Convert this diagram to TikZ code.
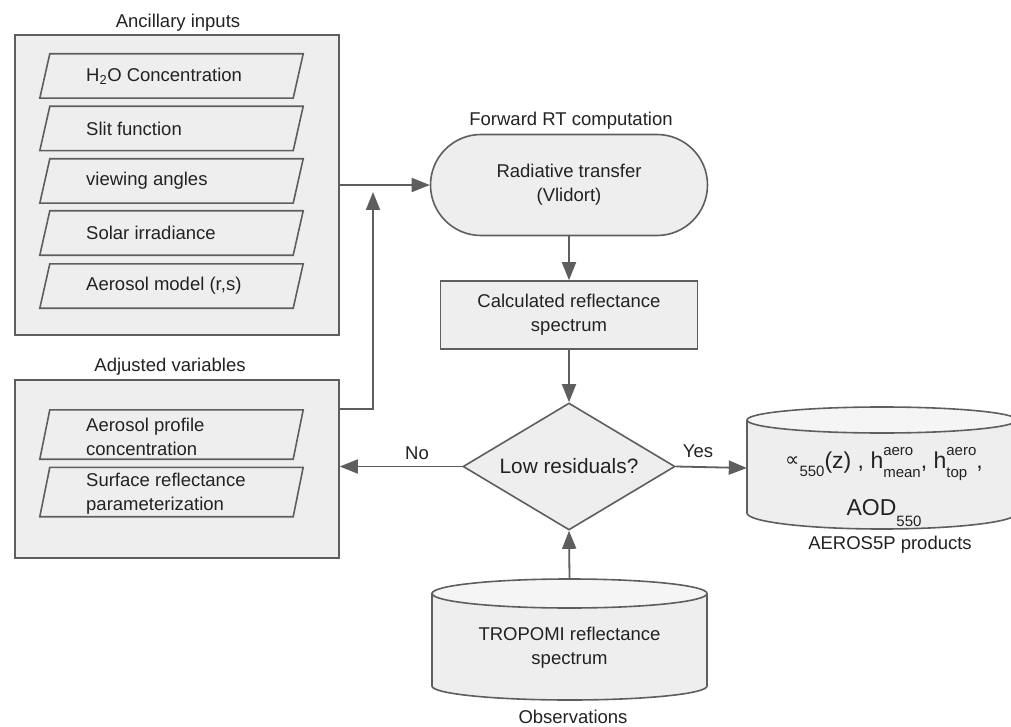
\documentclass[tikz,border=0pt]{standalone}
\usepackage{fontspec}
\setmainfont{Liberation Sans}
\newfontfamily\djv{DejaVu Sans}
\usetikzlibrary{shapes.geometric,arrows.meta,calc}
\definecolor{fillc}{HTML}{EEEEEE}
\definecolor{linec}{HTML}{5E5E5E}
\definecolor{txtc}{HTML}{222222}
\newdimen\sswid
\newcommand\supsub[3]{{\fontsize{15}{15}\selectfont
 \setbox0=\hbox{#1}\setbox2=\hbox{#2}%
 \sswid=\wd0 \ifdim\wd2>\sswid \sswid=\wd2\fi
 \makebox[\sswid][l]{\rlap{\raisebox{13pt}{\box0}}\raisebox{-#3}{\box2}}}}
\newcommand\lowsub[2]{{\fontsize{15}{15}\selectfont\raisebox{-#2}{#1}}}
\newcommand\para[3]{\node[pnode,minimum height=#3] (#1) at (166.5,#2) {};
 \filldraw[shp] (#1.south west) -- ([xshift=10pt]#1.north west) -- ([xshift=10pt]#1.north east) -- (#1.south east) -- cycle;}
\newcommand\cylshape[6]{% cx, ytop, ybot, rx, ry top, ry bottom
 \fill[fillc] (#1,#3) ellipse [x radius=#4pt, y radius=#6pt];
 \fill[fillc] (#1-#4,#2) rectangle (#1+#4,#3);
 \draw[linec, line width=1.6pt] (#1-#4,#2) -- (#1-#4,#3) (#1+#4,#2) -- (#1+#4,#3);
 \begin{scope}
 \clip (#1-#4-5,#3) rectangle (#1+#4+5,#3+#6+5);
 \draw[linec, line width=1.6pt] (#1,#3) ellipse [x radius=#4pt, y radius=#6pt];
 \end{scope}
 \filldraw[fill=fillc!60!white, draw=linec, line width=1.6pt] (#1,#2) ellipse [x radius=#4pt, y radius=#5pt];}
\begin{document}
\begin{tikzpicture}[x=1pt,y=-1pt,
 every node/.style={text=txtc, font=\fontsize{18.5}{24}\selectfont},
 shp/.style={fill=fillc, draw=linec, line width=1.6pt},
 pnode/.style={minimum width=253pt, inner sep=0pt, draw=none},
 txt/.style={inner sep=0pt, align=left, anchor=west},
 ctxt/.style={inner sep=0pt, align=center},
 ghost/.style={inner sep=0pt, draw=none},
 arr/.style={draw=linec, line width=1.8pt, -{Triangle[length=18pt,width=14pt]}}]
\fill[white] (0,0) rectangle (1011,727);
\useasboundingbox (0,0) rectangle (1011,727);

% Ancillary inputs
\node[ctxt] (anctitle) at (178,23) {Ancillary inputs};
\node[shp, minimum width=324pt, minimum height=300pt, inner sep=0pt] (anc) at (177,185) {};
\para{p1}{76}{44}
\para{p2}{128.5}{44}
\para{p3}{181}{44}
\para{p4}{233}{44}
\para{p5}{286}{44}
\node[txt] (t1) at (86,76) {H\textsubscript{2}O Concentration};
\node[txt] (t2) at (86,128.5) {Slit function};
\node[txt] (t3) at (86,181) {viewing angles};
\node[txt] (t4) at (86,233) {Solar irradiance};
\node[txt] (t5) at (86,286) {Aerosol model (r,s)};

% Adjusted variables
\node[ctxt] (adjtitle) at (170,367) {Adjusted variables};
\node[shp, minimum width=324pt, minimum height=178pt, inner sep=0pt] (adj) at (177,469) {};
\para{q1}{434.5}{49}
\para{q2}{492}{49}
\node[txt] (u1) at (86,436.5) {Aerosol profile\\concentration};
\node[txt] (u2) at (86,493.5) {Surface reflectance\\parameterization};

% Forward RT
\node[ctxt] (rttitle) at (571,121) {Forward RT computation};
\node[shp, rounded corners=50.5pt, minimum width=277pt, minimum height=101pt, inner sep=0pt, align=center] (rt) at (569,185) {Radiative transfer\\(Vlidort)};
\node[shp, minimum width=257pt, minimum height=68pt, inner sep=0pt, align=center] (calc) at (569,315) {Calculated reflectance\\spectrum};
\node[shp, diamond, aspect=1.67, minimum width=212pt, minimum height=127pt, inner sep=0pt, font=\fontsize{20.8}{24}\selectfont] (dia) at (569,466.5) {Low residuals?};

% Observations cylinder
\cylshape{569.5}{593.5}{686}{137.5}{14.5}{14}
\node[ghost, minimum width=275pt, minimum height=121pt] (obs) at (569.5,639.5) {};
\node[ctxt] (obstxt) at (569.5,647.5) {TROPOMI reflectance\\spectrum};
\node[ctxt] (obstitle) at (573,717) {Observations};

% Products cylinder
\cylshape{882}{420}{513}{135}{13}{16}
\node[ghost, minimum width=270pt, minimum height=122pt] (prod) at (882,468) {};
\node[inner sep=0pt, anchor=base, font=\fontsize{23}{26}\selectfont] (f1) at (884,468)
 {{\djv\fontsize{20}{20}\selectfont\raisebox{2pt}{∝}}\lowsub{550}{8pt}(z) , h\supsub{aero}{mean}{9pt}, h\supsub{aero}{top}{9pt},};
\node[inner sep=0pt, anchor=base, font=\fontsize{23}{26}\selectfont] (f2) at (884,515) {AOD\lowsub{550}{11pt}};
\node[ctxt] (prodtitle) at (890,545) {AEROS5P products};

% connectors
\coordinate (jn) at (373,192);
\draw[arr] (anc.east) -- (rt.west);
\draw[arr] ([yshift=-30pt]adj.north east) -| (jn);
\draw[arr] (rt) -- (calc);
\draw[arr] (calc) -- (dia);
\draw[arr] (dia.west) -- (dia.west -| adj.east);
\draw[arr] (dia.east) -- (prod.west);
\draw[arr] (obs.north) -- (dia.south);
\node[ctxt] (no) at (417,453) {No};
\node[ctxt] (yes) at (698,451) {Yes};
\end{tikzpicture}
\end{document}
